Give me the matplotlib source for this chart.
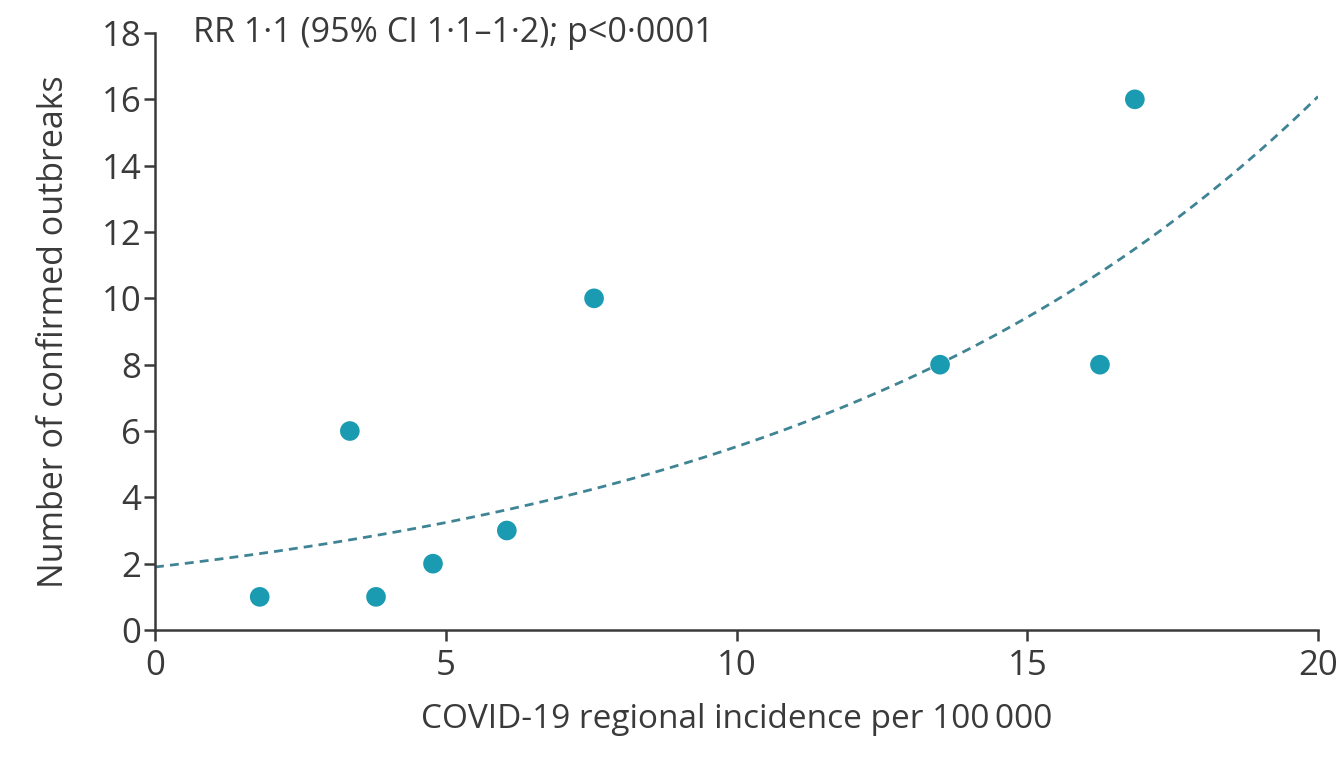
import numpy as np
import matplotlib
matplotlib.use("Agg")
import matplotlib.pyplot as plt

plt.rcParams['font.family'] = ['Open Sans', 'DejaVu Sans']

# Data
incidence = [1.8, 3.35, 3.8, 4.78, 6.05, 7.55, 13.5, 16.25, 16.85]
outbreaks = [1, 6, 1, 2, 3, 10, 8, 8, 16]

# Fitted exponential (Poisson) curve parameters
fit_intercept = 1.9
fit_rate = 0.1068

x_ticks = [0, 5, 10, 15, 20]
y_ticks = list(range(0, 19, 2))
annotation = "RR 1\u00b71 (95% CI 1\u00b71\u20131\u00b72); p<0\u00b70001"
xlabel = "COVID-19 regional incidence per 100\u2009000"
ylabel = "Number of confirmed outbreaks"

text_color = "#3a3a3a"
marker_color = "#1b9bb1"
line_color = "#3f8494"

fig = plt.figure(figsize=(13.4, 7.62), dpi=100)
ax = fig.add_axes([0.1157, 0.1732, 0.9836 - 0.1157, 0.9567 - 0.1732])

xs = np.linspace(0, 20, 300)
ax.plot(xs, fit_intercept * np.exp(fit_rate * xs), linestyle=(0, (3.2, 2.2)),
        color=line_color, lw=2.0, zorder=2)
ax.scatter(incidence, outbreaks, s=200, color=marker_color, edgecolors='none', zorder=3)

ax.set_xlim(0, 20)
ax.set_ylim(0, 18)
ax.set_xticks(x_ticks)
ax.set_yticks(y_ticks)

for s in ['top', 'right']:
    ax.spines[s].set_visible(False)
for s in ['left', 'bottom']:
    ax.spines[s].set_linewidth(1.8)
    ax.spines[s].set_color(text_color)

ax.tick_params(axis='both', direction='out', length=8, width=1.8, color=text_color,
               labelsize=25, labelcolor=text_color, pad=2)
ax.tick_params(axis='x', pad=6)

ax.set_xlabel(xlabel, fontsize=24, color=text_color, labelpad=14)
ax.set_ylabel(ylabel, fontsize=24.5, color=text_color, labelpad=22)

ax.text(0.65, 18, annotation, fontsize=24.5, color=text_color, va='center', ha='left')

fig.savefig("out.png", dpi=100, facecolor='white')
